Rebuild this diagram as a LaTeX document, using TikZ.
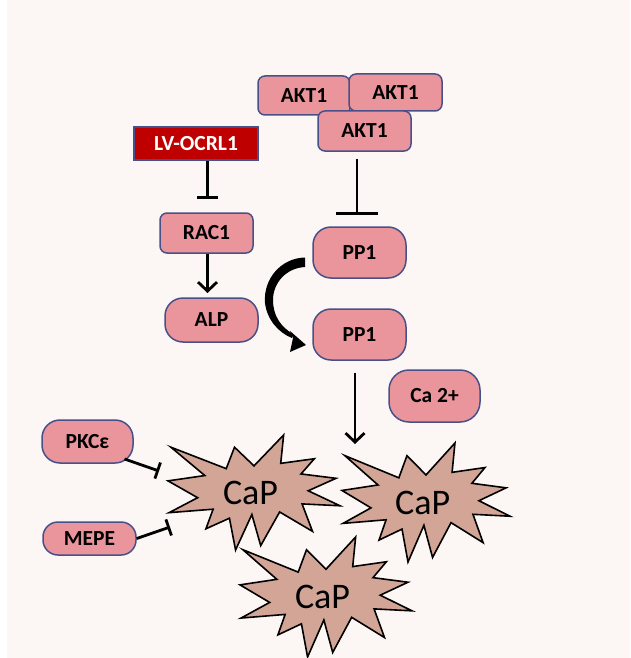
\documentclass[tikz,border=0pt]{standalone}
\usepackage{fontspec}
\setmainfont{Carlito}
\usetikzlibrary{arrows.meta}
\definecolor{bg}{RGB}{252,247,244}
\definecolor{boxfill}{RGB}{233,149,155}
\definecolor{boxdraw}{RGB}{72,80,138}
\definecolor{lvfill}{RGB}{190,0,0}
\definecolor{starfill}{RGB}{210,165,150}
\newcommand{\capstar}[5]{%
  \begin{scope}[shift={(#1,#2)},xscale=#3/216,yscale=#4/216]
    \filldraw[fill=starfill,draw=black,line width=1.6pt,line join=miter]
      (108,58)--(83.52,22.95)--(73.12,63.2)--(3.7,22.95)--(46.27,76.17)--(0,86.15)--(37.22,117.75)--(1.35,145.87)--(56.67,139.37)--(47.62,176.17)--(77.15,156.27)--(84.85,216)--(105.32,149.35)--(116.42,207.77)--(140.2,144.57)--(181.45,180.95)--(168.37,129.42)--(216,132.9)--(176.07,104.75)--(210.97,81.37)--(167.02,73.15)--(183.8,44.57)--(141.55,53.25)--(145.22,0)--cycle;
  \end{scope}
  \node[captext] (#5) at (#1+#3*0.48,#2+#4*0.5) {CaP};
}
\begin{document}
\begin{tikzpicture}[x=1pt,y=-1pt,
  box/.style={draw=boxdraw,fill=boxfill,line width=1.5pt,rounded corners=7pt,inner sep=0pt,
    font=\fontsize{21.5}{24}\selectfont\bfseries,text=black},
  pill/.style={box,rounded corners=18pt},
  captext/.style={font=\fontsize{36}{40}\selectfont,inner sep=0pt},
  inh/.style={line width=2.8pt,-{Bar[width=#1,line width=2.8pt]}},
  act/.style={line width=2.8pt,-{Straight Barb[length=9pt,width=19pt,line width=2.8pt]}}]
\useasboundingbox (0,0) rectangle (630,658);
\fill[white] (0,0) rectangle (630,658);
\fill[bg] (7,0) rectangle (630,658);

% stars
\capstar{168}{435}{172}{115}{cap1}
\capstar{342}{443}{168}{119}{cap2}
\capstar{240}{537}{172}{120}{cap3}

% boxes
\node[box,minimum width=92pt,minimum height=39pt] (akta) at (304,95.5) {AKT1};
\node[box,minimum width=93pt,minimum height=37pt] (aktb) at (395.5,92.5) {AKT1};
\node[box,minimum width=93pt,minimum height=40pt] (aktc) at (364.5,131) {AKT1};
\node[draw=boxdraw,fill=lvfill,line width=1.2pt,inner sep=0pt,minimum width=124pt,minimum height=33pt,
  font=\fontsize{21.5}{24}\selectfont\bfseries,text=white] (lv) at (196,143.5) {LV-OCRL1};
\node[box,minimum width=93pt,minimum height=40pt] (rac) at (206.5,233) {RAC1};
\node[pill,minimum width=93pt,minimum height=44pt] (alp) at (211.5,320) {ALP};
\node[pill,minimum width=93pt,minimum height=51pt] (ppa) at (359.5,252.5) {PP1};
\node[pill,minimum width=93pt,minimum height=51pt] (ppb) at (359.5,334.5) {PP1};
\node[pill,minimum width=91pt,minimum height=52pt,rounded corners=20pt] (ca) at (434.5,396) {Ca 2+};
\node[pill,minimum width=91pt,minimum height=43pt] (pkc) at (87.5,441.5) {PKCε};
\node[pill,minimum width=93pt,minimum height=33pt,rounded corners=15pt] (mepe) at (89.5,538.5) {MEPE};

% connector end points
\coordinate (lvend) at (207.5,199);
\coordinate (aktend) at (357,215);
\coordinate (alpend) at (207.5,293);
\coordinate (capend) at (355,444);
\coordinate (pkcend) at (159,471);
\coordinate (mepeend) at (170,527);

\draw[inh=21pt] (lv.south -| lvend) -- (lvend);
\draw[inh=42pt] ([yshift=-7pt]aktc.south -| aktend) -- (aktend);
\draw[act] (rac.south -| alpend) -- (alpend);
\draw[act] ([yshift=-12pt]ppb.south -| capend) -- (capend);
\draw[inh=17pt] ([shift={(37,17.5)}]pkc.center) -- (pkcend);
\draw[inh=17pt] (mepe.east) -- (mepeend);

% curved arrow PP1 -> PP1
\coordinate (cs) at (305,257.5);
\fill[black] (cs) .. controls (281,258) and (263,279) .. (265,303)
  .. controls (267,320) and (279,333) .. (292,338)
  -- (293,334) .. controls (281,327) and (273,316) .. (273,300)
  .. controls (273,283) and (286,268) .. (305,267) -- cycle;
\fill[black] (306,345) -- (290,331) -- (293,338) -- (290,352) -- cycle;
\end{tikzpicture}
\end{document}
